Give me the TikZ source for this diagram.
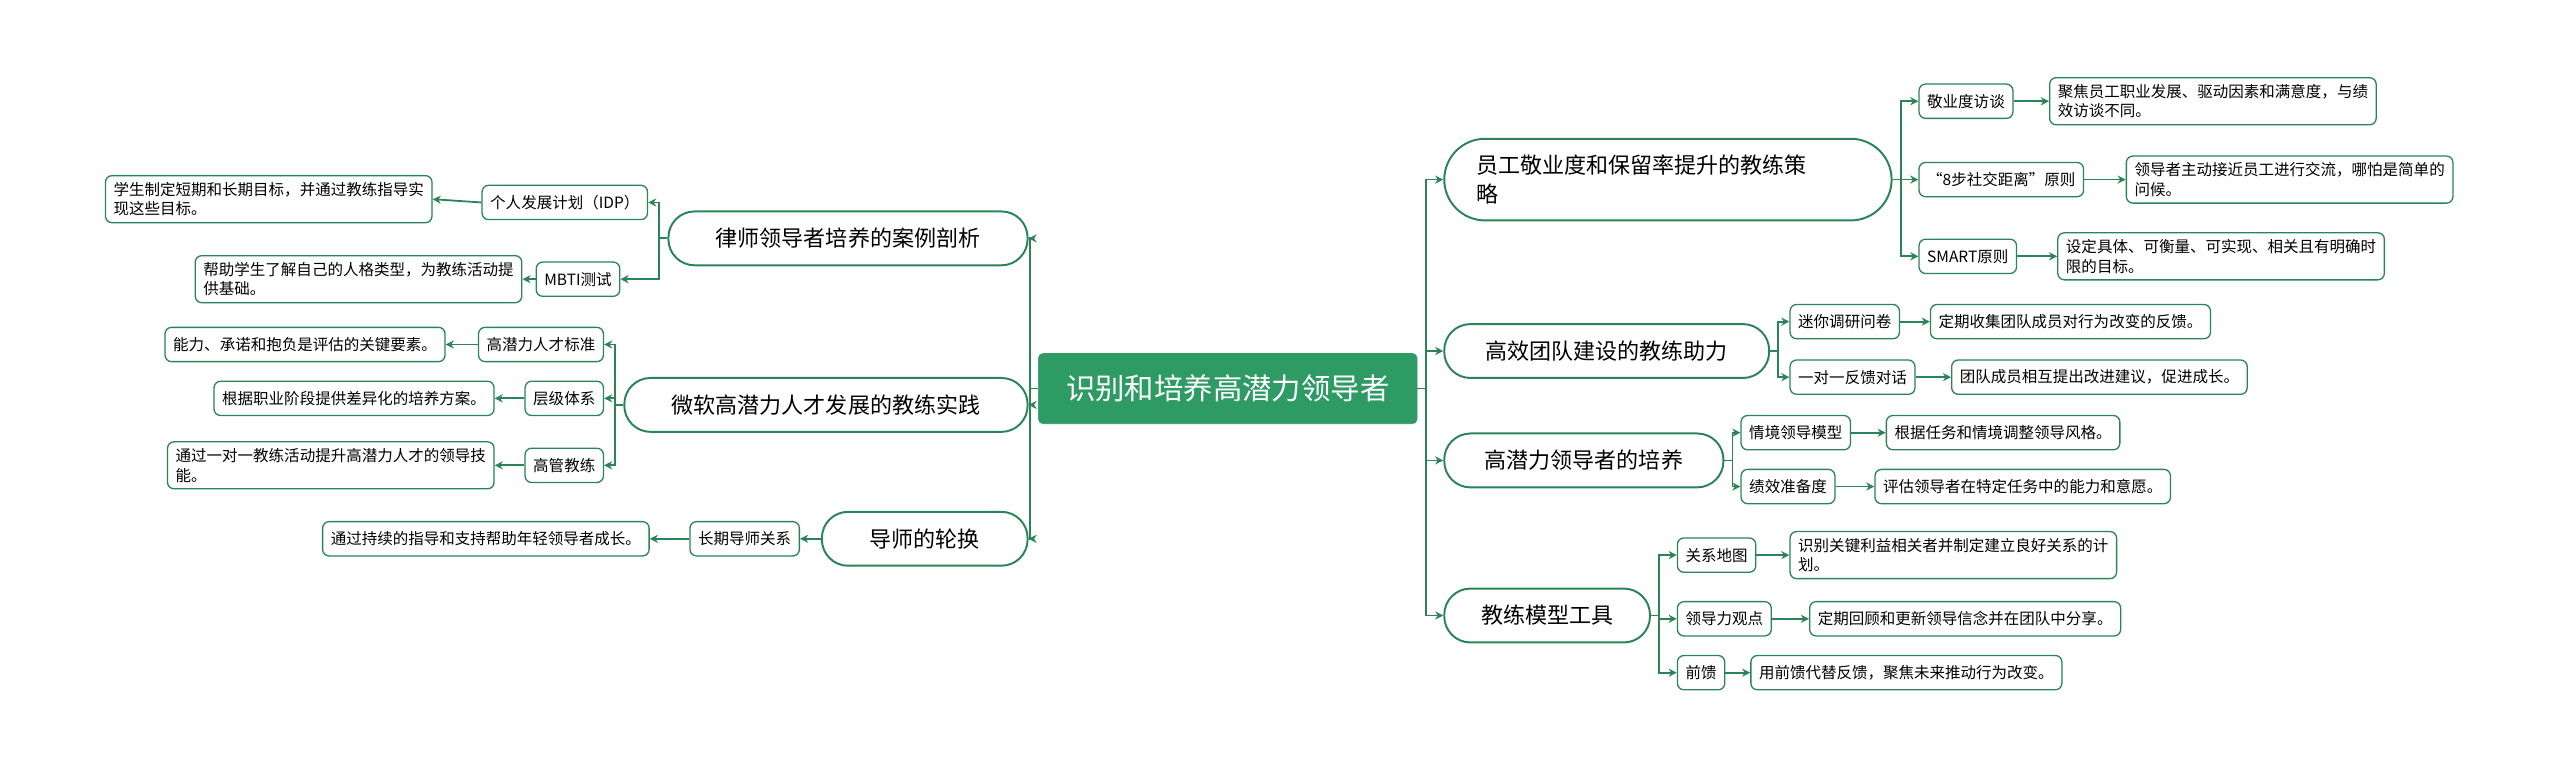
\documentclass[tikz,border=0pt]{standalone}
\usepackage{fontspec}
\setmainfont{Noto Sans CJK SC}
\usetikzlibrary{arrows.meta}
\definecolor{lc}{HTML}{2A8457}
\definecolor{rootc}{HTML}{2E9A64}
\tikzset{
 root/.style={fill=rootc,draw=rootc,text=white,rounded corners=3,minimum width=232,minimum height=43,font=\fontsize{18}{22}\selectfont},
 lone/.style={draw=lc,line width=1.2,fill=white,rounded corners=16,minimum height=33,font=\fontsize{13.5}{18}\selectfont,inner xsep=10},
 ltwo/.style={draw=lc,line width=0.8,fill=white,rounded corners=4,minimum height=21,font=\fontsize{9.5}{12}\selectfont,inner xsep=5},
 leaf/.style={ltwo,align=left,inner ysep=4},
 conn/.style={draw=lc,line width=1.1,-{Stealth[length=5,width=5]}},
}
\begin{document}
\begin{tikzpicture}[x=1pt,y=-1pt]
\useasboundingbox (0,0) rectangle (1568,468.6);
\node[root] (c) at (752,238) {识别和培养高潜力领导者};
% right level 1
\node[lone,anchor=west,minimum width=274,minimum height=50,align=left,text width=235,rounded corners=25] (r1) at (884,110) {员工敬业度和保留率提升的教练策\\略};
\node[lone,anchor=west,minimum width=199] (r2) at (884,215) {高效团队建设的教练助力};
\node[lone,anchor=west,minimum width=171] (r3) at (884,282) {高潜力领导者的培养};
\node[lone,anchor=west,minimum width=126] (r4) at (884,377) {教练模型工具};
% left level 1
\node[lone,anchor=east,minimum width=220] (l1) at (630,146) {律师领导者培养的案例剖析};
\node[lone,anchor=east,minimum width=247] (l2) at (630,248) {微软高潜力人才发展的教练实践};
\node[lone,anchor=east,minimum width=126] (l3) at (630,330) {导师的轮换};
% r1 children
\node[ltwo,anchor=west] (a1) at (1175,62) {敬业度访谈};
\node[ltwo,anchor=west] (a2) at (1175,110) {“8步社交距离”原则};
\node[ltwo,anchor=west] (a3) at (1175,157) {SMART原则};
\node[leaf,anchor=west] (a1l) at (1255,62) {聚焦员工职业发展、驱动因素和满意度，与绩\\效访谈不同。};
\node[leaf,anchor=west] (a2l) at (1302,110) {领导者主动接近员工进行交流，哪怕是简单的\\问候。};
\node[leaf,anchor=west] (a3l) at (1260,157) {设定具体、可衡量、可实现、相关且有明确时\\限的目标。};
% r2
\node[ltwo,anchor=west] (b1) at (1096,197) {迷你调研问卷};
\node[ltwo,anchor=west] (b2) at (1096,231) {一对一反馈对话};
\node[leaf,anchor=west] (b1l) at (1182,197) {定期收集团队成员对行为改变的反馈。};
\node[leaf,anchor=west] (b2l) at (1195,231) {团队成员相互提出改进建议，促进成长。};
% r3
\node[ltwo,anchor=west] (d1) at (1066,265) {情境领导模型};
\node[ltwo,anchor=west] (d2) at (1066,298) {绩效准备度};
\node[leaf,anchor=west] (d1l) at (1155,265) {根据任务和情境调整领导风格。};
\node[leaf,anchor=west] (d2l) at (1148,298) {评估领导者在特定任务中的能力和意愿。};
% r4
\node[ltwo,anchor=west] (e1) at (1027,340) {关系地图};
\node[ltwo,anchor=west] (e2) at (1027,379) {领导力观点};
\node[ltwo,anchor=west] (e3) at (1027,412) {前馈};
\node[leaf,anchor=west] (e1l) at (1096,340) {识别关键利益相关者并制定建立良好关系的计\\划。};
\node[leaf,anchor=west] (e2l) at (1108,379) {定期回顾和更新领导信念并在团队中分享。};
\node[leaf,anchor=west] (e3l) at (1072,412) {用前馈代替反馈，聚焦未来推动行为改变。};
% l1
\node[ltwo,anchor=east] (f1) at (397,124) {个人发展计划（IDP）};
\node[ltwo,anchor=east] (f2) at (380,171) {MBTI测试};
\node[leaf,anchor=east] (f1l) at (265,122) {学生制定短期和长期目标，并通过教练指导实\\现这些目标。};
\node[leaf,anchor=east] (f2l) at (320,171) {帮助学生了解自己的人格类型，为教练活动提\\供基础。};
% l2
\node[ltwo,anchor=east] (g1) at (370,211) {高潜力人才标准};
\node[ltwo,anchor=east] (g2) at (370,244) {层级体系};
\node[ltwo,anchor=east] (g3) at (370,285) {高管教练};
\node[leaf,anchor=east] (g1l) at (273,211) {能力、承诺和抱负是评估的关键要素。};
\node[leaf,anchor=east] (g2l) at (303,244) {根据职业阶段提供差异化的培养方案。};
\node[leaf,anchor=east] (g3l) at (303,285) {通过一对一教练活动提升高潜力人才的领导技\\能。};
% l3
\node[ltwo,anchor=east] (h1) at (490,330) {长期导师关系};
\node[leaf,anchor=east] (h1l) at (398,330) {通过持续的指导和支持帮助年轻领导者成长。};
% connectors
\foreach \t in {r1,r2,r3,r4} \draw[conn] (c.east) -- ++(5,0) |- (\t.west);
\foreach \t in {l1,l2,l3} \draw[conn] (c.west) -- ++(-5,0) |- (\t.east);
\foreach \t in {a1,a2,a3} \draw[conn] (r1.east) -- ++(5,0) |- (\t.west);
\foreach \t in {b1,b2} \draw[conn] (r2.east) -- ++(5,0) |- (\t.west);
\foreach \t in {d1,d2} \draw[conn] (r3.east) -- ++(5,0) |- (\t.west);
\foreach \t in {e1,e2,e3} \draw[conn] (r4.east) -- ++(5,0) |- (\t.west);
\foreach \t in {f1,f2} \draw[conn] (l1.west) -- ++(-5,0) |- (\t.east);
\foreach \t in {g1,g2,g3} \draw[conn] (l2.west) -- ++(-5,0) |- (\t.east);
\draw[conn] (l3.west) -- (h1.east);
\foreach \p/\q in {a1/a1l,a2/a2l,a3/a3l,b1/b1l,b2/b2l,d1/d1l,d2/d2l,e1/e1l,e2/e2l,e3/e3l} \draw[conn] (\p.east) -- (\q.west);
\foreach \p/\q in {f1/f1l,f2/f2l,g1/g1l,g2/g2l,g3/g3l,h1/h1l} \draw[conn] (\p.west) -- (\q.east);
\end{tikzpicture}
\end{document}
